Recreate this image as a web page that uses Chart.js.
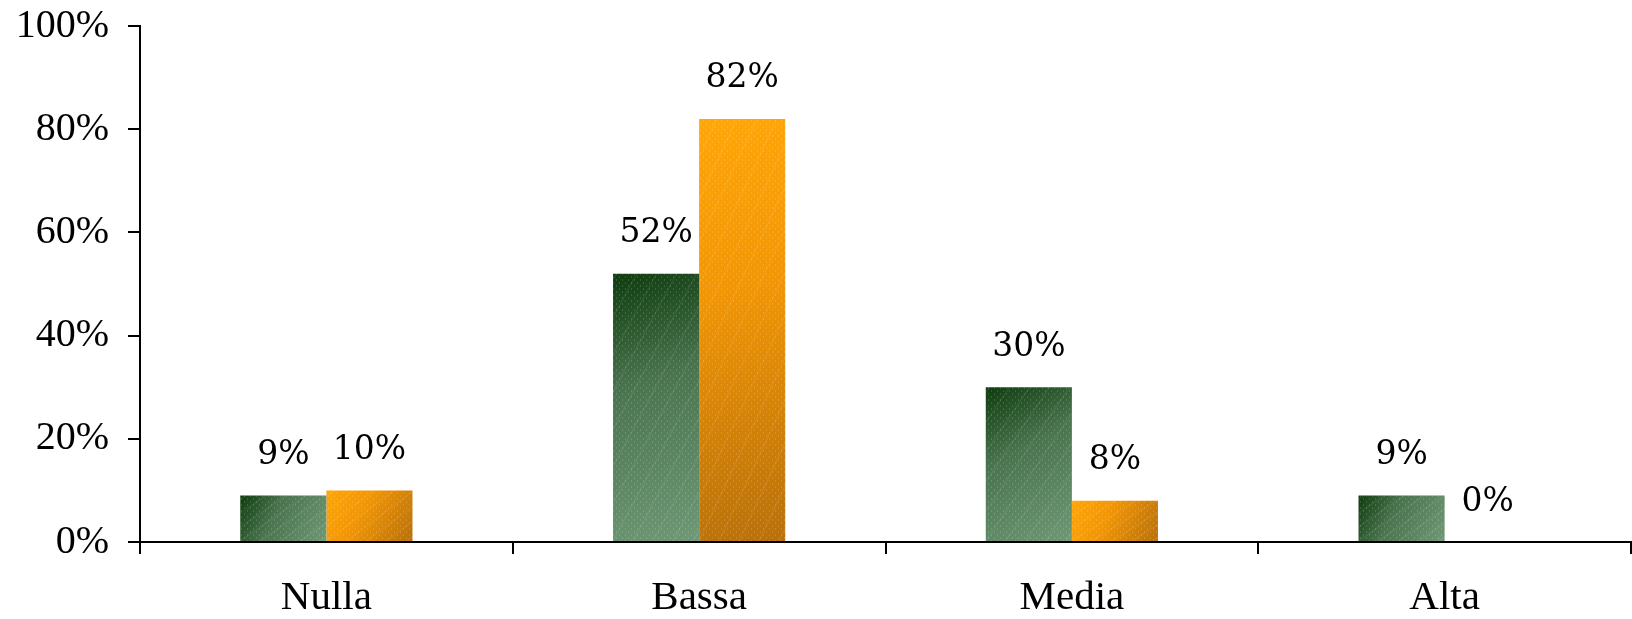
<!DOCTYPE html>
<html>
<head>
<meta charset="utf-8">
<script src="https://cdn.jsdelivr.net/npm/chart.js@4.4.1/dist/chart.umd.min.js"></script>
<style>
  html, body { margin: 0; padding: 0; background: #fff; }
  #wrap { width: 1632px; height: 619px; }
</style>
</head>
<body>
<div id="wrap"><canvas id="c" width="1632" height="619"></canvas></div>
<script>
// Daten
const categories = ['Nulla', 'Bassa', 'Media', 'Alta'];
const serieVerde = [9, 52, 30, 9];
const serieArancio = [10, 82, 8, 0];
const yTicks = [0, 20, 40, 60, 80, 100];

const CAT_PCT = 0.462;

// Farbverlauf pro Balken, diagonal von oben links nach unten rechts
function barGradient(ctx, stops) {
    const chart = ctx.chart;
    const xs = chart.scales.x;
    const ys = chart.scales.y;
    if (!xs || !ys || ctx.dataIndex === undefined) return stops[1];
    const n = chart.data.labels.length;
    const nds = chart.data.datasets.length;
    const center = xs.getPixelForValue(ctx.dataIndex);
    const barW = (xs.width / n) * CAT_PCT / nds;
    const left = center - barW * nds / 2 + ctx.datasetIndex * barW;
    const v = chart.data.datasets[ctx.datasetIndex].data[ctx.dataIndex];
    const top = ys.getPixelForValue(v);
    const base = ys.getPixelForValue(0);
    if (!isFinite(left) || !isFinite(top)) return stops[1];
    const g = chart.ctx.createLinearGradient(left, top, left + barW, base);
    g.addColorStop(0, stops[0]);
    g.addColorStop(0.4, stops[1]);
    g.addColorStop(1, stops[2]);
    return g;
}

// feines Muster über den Balken
function makePattern() {
    const p = document.createElement('canvas');
    p.width = 6; p.height = 6;
    const c = p.getContext('2d');
    c.fillStyle = 'rgba(255,255,255,0.14)';
    c.fillRect(1, 0, 1, 2);
    c.fillRect(4, 3, 1, 2);
    return p;
}

const overlayPlugin = {
    id: 'overlay',
    afterDatasetsDraw(chart) {
        const ctx = chart.ctx;
        const pat = ctx.createPattern(makePattern(), 'repeat');
        ctx.save();
        chart.data.datasets.forEach((ds, di) => {
            const meta = chart.getDatasetMeta(di);
            meta.data.forEach((bar) => {
                const h = bar.base - bar.y;
                if (h <= 0) return;
                const l = bar.x - bar.width / 2;
                ctx.fillStyle = pat;
                ctx.fillRect(l, bar.y, bar.width, h);
                // diagonale Streifen
                ctx.save();
                ctx.beginPath();
                ctx.rect(l, bar.y, bar.width, h);
                ctx.clip();
                ctx.strokeStyle = 'rgba(255,255,255,0.09)';
                ctx.lineWidth = 1.2;
                for (let k = -400; k < 400; k += 20) {
                    ctx.beginPath();
                    ctx.moveTo(l + k, bar.base);
                    ctx.lineTo(l + k + h * 0.35 + 50, bar.y);
                    ctx.stroke();
                }
                ctx.restore();
            });
        });
        ctx.restore();
    }
};

const labelPlugin = {
    id: 'valueLabels',
    afterDatasetsDraw(chart) {
        const ctx = chart.ctx;
        ctx.save();
        ctx.font = '33px "DejaVu Serif"';
        ctx.fillStyle = '#000';
        ctx.textAlign = 'center';
        ctx.textBaseline = 'middle';
        chart.data.datasets.forEach((ds, di) => {
            const meta = chart.getDatasetMeta(di);
            meta.data.forEach((bar, i) => {
                ctx.fillText(ds.data[i] + '%', bar.x, bar.y - 40);
            });
        });
        ctx.restore();
    }
};

new Chart(document.getElementById('c'), {
    type: 'bar',
    data: {
        labels: categories,
        datasets: [{
            label: 'Verde',
            data: serieVerde,
            backgroundColor: (ctx) => barGradient(ctx, ['#0e3c0e', '#4a744e', '#6f9876'])
        }, {
            label: 'Arancio',
            data: serieArancio,
            backgroundColor: (ctx) => barGradient(ctx, ['#ffa608', '#f29605', '#b8700a'])
        }]
    },
    options: {
        responsive: false,
        animation: false,
        devicePixelRatio: 1,
        layout: { padding: { top: 26, right: 1, left: 0, bottom: 0 } },
        plugins: {
            legend: { display: false },
            tooltip: { enabled: false }
        },
        datasets: {
            bar: { categoryPercentage: CAT_PCT, barPercentage: 1.0, borderWidth: 0 }
        },
        scales: {
            x: {
                offset: true,
                grid: { offset: true, drawOnChartArea: false, drawTicks: true, tickLength: 12, color: '#000', lineWidth: 2 },
                border: { display: true, color: '#000', width: 2 },
                ticks: { color: '#000', padding: 20, font: { family: 'Liberation Serif', size: 41 } },
                afterFit(scale) { scale.height = 77; scale.paddingLeft = 0; scale.paddingRight = 0; }
            },
            y: {
                min: 0,
                max: 100,
                afterBuildTicks(scale) { scale.ticks = yTicks.map(v => ({ value: v })); },
                grid: { drawOnChartArea: false, drawTicks: true, tickLength: 12, color: '#000', lineWidth: 2 },
                border: { display: true, color: '#000', width: 2 },
                ticks: {
                    color: '#000',
                    padding: 19,
                    font: { family: 'Liberation Serif', size: 40 },
                    callback: (v) => v + '%'
                },
                afterFit(scale) { scale.width = 140; scale.paddingTop = 0; scale.paddingBottom = 0; }
            }
        }
    },
    plugins: [overlayPlugin, labelPlugin]
});
</script>
</body>
</html>
